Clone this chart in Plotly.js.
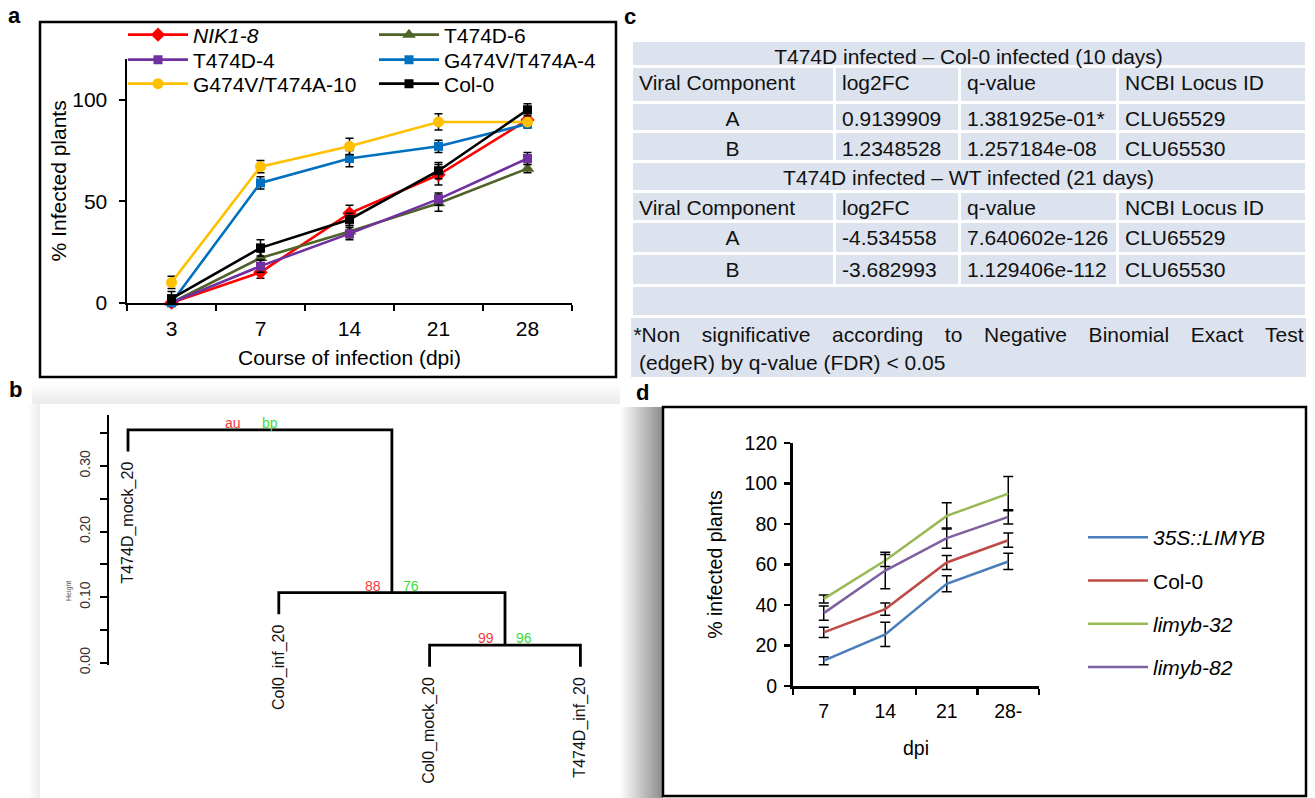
<!DOCTYPE html>
<html><head><meta charset="utf-8">
<script src="https://cdn.plot.ly/plotly-3.0.1.min.js"></script>
<style>html,body{margin:0;padding:0;background:#fff}#chart{width:1315px;height:798px}</style>
</head><body><div id="chart"></div>
<script>
// ---------------- Panel a data ----------------
const dpiA = ['3', '7', '14', '21', '28'];
const namesA = ['<i>NIK1-8</i>', 'T474D-6', 'T474D-4', 'G474V/T474A-4', 'G474V/T474A-10', 'Col-0'];
const nik18 = [0, 15, 44, 63, 90];
const nik18Err = [0, 3, 4, 5, 3];
const t474d6 = [0, 22, 35, 49, 66];
const t474d6Err = [0, 3, 3, 4, 2];
const t474d4 = [0, 18, 34, 51, 71];
const t474d4Err = [0, 3, 3, 3, 3];
const g474v4 = [0, 59, 71, 77, 88];
const g474v4Err = [0, 3, 4, 3, 2];
const g474v10 = [10, 67, 77, 89, 89];
const g474v10Err = [3, 3, 4, 4, 1];
const col0A = [2, 27, 41, 65, 95];
const col0AErr = [3.5, 4, 3, 4, 3];

// ---------------- Panel b data ----------------
const leafLabels = ['T474D_mock_20', 'Col0_inf_20', 'Col0_mock_20', 'T474D_inf_20'];
const mergeLeft = [-3, -2, -1];   // negative = leaf number, positive = earlier merge
const mergeRight = [-4, 1, 2];
const mergeHeight = [0.027, 0.107, 0.355];
const leafHang = 0.033;
const auLabels = ['99', '88', 'au'];
const bpLabels = ['96', '76', 'bp'];
const heightTicks = [0, 0.05, 0.10, 0.15, 0.20, 0.25, 0.30, 0.35];
const heightTickText = ['0.00', '', '0.10', '', '0.20', '', '0.30', ''];

// ---------------- Panel c data ----------------
const titleRow1 = 'T474D infected – Col-0 infected (10 days)';
const titleRow2 = 'T474D infected – WT infected (21 days)';
const colHeaders = ['Viral Component', 'log2FC', 'q-value', 'NCBI Locus ID'];
const components = ['A', 'B'];
const log2fc10 = ['0.9139909', '1.2348528'];
const qval10 = ['1.381925e-01*', '1.257184e-08'];
const log2fc21 = ['-4.534558', '-3.682993'];
const qval21 = ['7.640602e-126', '1.129406e-112'];
const locusIds = ['CLU65529', 'CLU65530'];
const footWords = ['*Non', 'significative', 'according', 'to', 'Negative', 'Binomial', 'Exact', 'Test'];
const footLine2 = '(edgeR) by q-value (FDR) < 0.05';

// ---------------- Panel d data ----------------
const dpiD = ['7', '14', '21', '28-'];
const namesD = ['<i>35S::LIMYB</i>', 'Col-0', '<i>limyb-32</i>', '<i>limyb-82</i>'];
const limyb35S = [12.5, 25.5, 50.5, 61.5];
const limyb35SErr = [2, 6, 4, 4];
const col0D = [26.5, 38, 61, 72];
const col0DErr = [2.5, 3, 3.5, 3.5];
const limyb32 = [43, 62, 84, 95];
const limyb32Err = [2, 3, 6.5, 8.5];
const limyb82 = [36, 57, 73, 83.5];
const limyb82Err = [3.5, 9, 5, 3.5];

// ---------------- helpers ----------------
const W = 1315, H = 798;
const px = x => x / W;
const py = y => 1 - y / H;
const FONT = 'Liberation Sans, Arial, sans-serif';

const traces = [];
const annotations = [];

// ---------------- Panel a traces ----------------
const seriesA = [nik18, t474d6, t474d4, g474v4, g474v10, col0A];
const errA = [nik18Err, t474d6Err, t474d4Err, g474v4Err, g474v10Err, col0AErr];
const colorsA = ['#ff0000', '#4f6228', '#7030a0', '#0070c0', '#ffc000', '#000000'];
const symbolsA = ['diamond', 'triangle-up', 'square', 'square', 'circle', 'square'];
const sizesA = [11, 12, 9, 9, 11, 9];
const legendOfA = ['legend', 'legend', 'legend2', 'legend2', 'legend3', 'legend3'];
seriesA.forEach((ys, i) => {
  traces.push({
    type: 'scatter', mode: 'lines+markers', x: dpiA, y: ys, name: namesA[i],
    xaxis: 'x', yaxis: 'y', legend: legendOfA[i], cliponaxis: false,
    line: {color: colorsA[i], width: 2.6},
    marker: {symbol: symbolsA[i], size: sizesA[i], color: colorsA[i]},
    error_y: {type: 'data', array: errA[i], visible: true, color: '#000', thickness: 1.5, width: 4},
    hoverinfo: 'skip'
  });
});

// ---------------- Panel d traces ----------------
const seriesD = [limyb35S, col0D, limyb32, limyb82];
const errD = [limyb35SErr, col0DErr, limyb32Err, limyb82Err];
const colorsD = ['#4a7ebb', '#be4b48', '#98b954', '#7d60a0'];
seriesD.forEach((ys, i) => {
  traces.push({
    type: 'scatter', mode: 'lines', x: dpiD, y: ys, name: namesD[i],
    xaxis: 'x2', yaxis: 'y2', legend: 'legend4', legendgroup: 'd' + i,
    line: {color: colorsD[i], width: 2.5},
    error_y: {type: 'data', array: errD[i], visible: true, color: '#000', thickness: 1.5, width: 5},
    hoverinfo: 'skip'
  });
});

// ---------------- Panel b dendrogram ----------------
const auOffset = [0.06, 0.06, 0.11];
const bpOffset = [0.06, 0.06, 0.0];
const nodeX = [], nodeH = [];
const segX = [], segY = [];
function child(ref, parentH) {
  if (ref < 0) return {x: -ref, h: parentH - leafHang};
  return {x: nodeX[ref - 1], h: nodeH[ref - 1]};
}
mergeHeight.forEach((h, k) => {
  const l = child(mergeLeft[k], h), r = child(mergeRight[k], h);
  segX.push(l.x, l.x, r.x, r.x, null);
  segY.push(l.h, h, h, r.h, null);
  const cx = (l.x + r.x) / 2;
  nodeX.push(cx);
  nodeH.push(h);
  annotations.push({xref: 'x3', yref: 'y4', x: cx - auOffset[k], y: h, text: auLabels[k], showarrow: false,
    xanchor: 'right', yanchor: 'bottom', yshift: -3, font: {family: FONT, size: 14, color: '#f03c3c'}});
  annotations.push({xref: 'x3', yref: 'y4', x: cx + bpOffset[k], y: h, text: bpLabels[k], showarrow: false,
    xanchor: 'left', yanchor: 'bottom', yshift: -3, font: {family: FONT, size: 14, color: '#3cdc3c'}});
});
traces.push({type: 'scatter', mode: 'lines', x: segX, y: segY, xaxis: 'x3', yaxis: 'y4',
  line: {color: '#000', width: 2.8}, showlegend: false, hoverinfo: 'skip', connectgaps: false});
traces.push({type: 'scatter', mode: 'markers', x: [null], y: [null], xaxis: 'x3', yaxis: 'y3', showlegend: false, hoverinfo: 'skip'});
leafLabels.forEach((lab, i) => {
  let parentH = 0;
  mergeHeight.forEach((h, k) => { if (mergeLeft[k] === -(i + 1) || mergeRight[k] === -(i + 1)) parentH = h; });
  annotations.push({xref: 'x3', yref: 'y4', x: i + 1, y: parentH - leafHang, text: lab, showarrow: false,
    textangle: -90, xanchor: 'center', yanchor: 'top', yshift: -8, font: {family: FONT, size: 16, color: '#111'}});
});
annotations.push({xref: 'paper', yref: 'paper', x: px(63), y: py(603), text: 'Height', showarrow: false,
  textangle: -90, font: {family: FONT, size: 7, color: '#555'}});

// ---------------- Panel c tables ----------------
const TFILL = '#dde3ee';
const tfont = {family: FONT, size: 21, color: '#111'};
const colW = [203, 125, 158, 189];
function tableTrace(top, bottom, header, hh, cells, ch, headerAlign, cellAlign, lineW, lineC) {
  return {type: 'table', domain: {x: [px(631), px(1306)], y: [py(bottom), py(top)]},
    columnwidth: header.length === 4 ? colW : [1],
    header: {values: header, height: hh, align: headerAlign, fill: {color: TFILL}, line: {color: lineC, width: lineW}, font: tfont},
    cells: {values: cells, height: ch, align: cellAlign, fill: {color: TFILL}, line: {color: lineC, width: lineW}, font: tfont}};
}
const spacer = '\u00a0\u00a0\u00a0\u2009';
// drawn so that each title row's text sits on top of the white separator below it
traces.push(tableTrace(66.5, 165, colHeaders, 36, [components, log2fc10, qval10, locusIds], 29.3, 'left', ['center', 'left', 'left', 'left'], 3, '#fff'));
traces.push(tableTrace(40.5, 70, [titleRow1], 26, [[]], 20, 'center', 'center', 3, '#fff'));
traces.push(tableTrace(191, 290, colHeaders, 30.5, [components, log2fc21, qval21, locusIds], 31.75, 'left', ['center', 'left', 'left', 'left'], 3, '#fff'));
traces.push(tableTrace(161, 195, [titleRow2], 30, [[]], 20, 'center', 'center', 3, '#fff'));
traces.push(tableTrace(285, 320, [''], 31.5, [[]], 20, 'center', 'center', 3, '#fff'));
traces.push(tableTrace(318, 378, [footWords.join(spacer)], 25, [[footLine2]], 33, 'center', 'left', 0, TFILL));

// ---------------- layout ----------------
const axFont = {family: FONT, size: 21, color: '#000'};
const axFontD = {family: FONT, size: 19.5, color: '#000'};
const legendBase = {orientation: 'h', xanchor: 'left', yanchor: 'middle', x: px(123),
  font: {family: FONT, size: 21, color: '#000'}, bgcolor: 'rgba(0,0,0,0)', borderwidth: 0,
  itemwidth: 60, entrywidth: 176, entrywidthmode: 'pixels', traceorder: 'normal'};

function grad(x1, y1, x2, y2, c1, c2) {
  const svg = `<svg xmlns="http://www.w3.org/2000/svg" width="100" height="100" preserveAspectRatio="none"><defs><linearGradient id="g" x1="${x1}" y1="${y1}" x2="${x2}" y2="${y2}"><stop offset="0" stop-color="${c1}"/><stop offset="1" stop-color="${c2}"/></linearGradient></defs><rect width="100" height="100" fill="url(#g)"/></svg>`;
  return 'data:image/svg+xml;charset=utf-8,' + encodeURIComponent(svg);
}
const img = (src, x0, y0, x1, y1) => ({source: src, xref: 'paper', yref: 'paper', x: px(x0), y: py(y0),
  sizex: px(x1) - px(x0), sizey: (y1 - y0) / H, xanchor: 'left', yanchor: 'top', sizing: 'stretch', layer: 'below'});

['a', 'b', 'c', 'd'].forEach((t, i) => {
  const pos = [[14, 15], [15, 389], [630, 16], [642, 392]][i];
  annotations.push({xref: 'paper', yref: 'paper', x: px(pos[0]), y: py(pos[1]), text: '<b>' + t + '</b>',
    showarrow: false, xanchor: 'center', yanchor: 'middle', font: {family: FONT, size: 22, color: '#000'}});
});

const layout = {
  width: W, height: H, margin: {l: 0, r: 0, t: 0, b: 0}, paper_bgcolor: '#fff', plot_bgcolor: 'rgba(0,0,0,0)',
  showlegend: true,
  xaxis: {domain: [px(127), px(572)], anchor: 'y', type: 'category', categoryorder: 'array', categoryarray: dpiA,
    range: [-0.5, 4.5], tickson: 'boundaries', ticks: 'outside', ticklen: 6, tickwidth: 2, tickcolor: '#000',
    ticklabelstandoff: 6, showline: true, linecolor: '#000', linewidth: 2.5, showgrid: false, zeroline: false, tickfont: axFont,
    title: {text: 'Course of infection (dpi)', font: axFont, standoff: 11}},
  yaxis: {domain: [py(302.7), py(59)], anchor: 'x', range: [0, 120], tickvals: [0, 50, 100], ticks: 'outside',
    ticklen: 6, tickwidth: 2, tickcolor: '#000', ticklabelstandoff: 7, showline: true, linecolor: '#000', linewidth: 2.5,
    showgrid: false, zeroline: false, tickfont: axFont, title: {text: '% Infected plants', font: axFont, standoff: 0}},
  xaxis2: {domain: [px(793), px(1039)], anchor: 'y2', type: 'category', categoryorder: 'array', categoryarray: dpiD,
    range: [-0.5, 3.5], tickson: 'boundaries', ticks: 'outside', ticklen: 6, tickwidth: 2.5, tickcolor: '#000',
    ticklabelstandoff: 6, showline: true, linecolor: '#000', linewidth: 3, showgrid: false, zeroline: false, tickfont: axFontD,
    title: {text: 'dpi', font: axFontD, standoff: 20}},
  yaxis2: {domain: [py(686), py(443)], anchor: 'x2', range: [0, 120], dtick: 20, ticks: 'outside',
    ticklen: 6, tickwidth: 2.5, tickcolor: '#000', ticklabelstandoff: 3, showline: true, linecolor: '#000', linewidth: 3,
    showgrid: false, zeroline: false, tickfont: axFontD, title: {text: '% infected plants', font: axFontD, standoff: 17}},
  xaxis3: {domain: [px(109.3), px(620)], anchor: 'y3', range: [0.876, 4.2626], visible: false},
  yaxis3: {domain: [py(665), py(415)], anchor: 'x3', range: [-0.00335, 0.3777], tickvals: heightTicks, ticktext: heightTickText,
    tickangle: -90, ticks: 'outside', ticklen: 7, tickwidth: 2, tickcolor: '#000', ticklabelstandoff: 4, showline: true, linecolor: '#000',
    linewidth: 2.8, showgrid: false, zeroline: false, tickfont: {family: FONT, size: 14, color: '#333'}},
  yaxis4: {domain: [py(798), py(405)], anchor: 'x3', range: [-0.2061, 0.393], visible: false},
  legend: Object.assign({}, legendBase, {y: py(35)}),
  legend2: Object.assign({}, legendBase, {y: py(60)}),
  legend3: Object.assign({}, legendBase, {y: py(84)}),
  legend4: {orientation: 'v', xanchor: 'left', yanchor: 'top', x: px(1083), y: py(517), tracegroupgap: 13,
    traceorder: 'grouped', itemwidth: 60, font: {family: FONT, size: 21, color: '#000'}, bgcolor: 'rgba(0,0,0,0)'},
  shapes: [
    {type: 'rect', xref: 'paper', yref: 'paper', x0: px(40), x1: px(616), y0: py(377), y1: py(22), line: {color: '#000', width: 2.5}},
    {type: 'rect', xref: 'paper', yref: 'paper', x0: px(663), x1: px(1306), y0: py(796), y1: py(407), line: {color: '#000', width: 2.5}}
  ],
  images: [
    img(grad(0, 0, 1, 0, '#ffffff', '#8a8a8a'), 620, 407, 663, 798),
    img(grad(0, 0, 0, 1, '#ffffff', '#ebebeb'), 32, 382, 620, 404),
    img(grad(0, 0, 1, 0, '#ffffff', '#ececec'), 28, 404, 40, 798)
  ],
  annotations: annotations
};

Plotly.newPlot('chart', traces, layout, {displayModeBar: false, staticPlot: true});
</script>
</body></html>
